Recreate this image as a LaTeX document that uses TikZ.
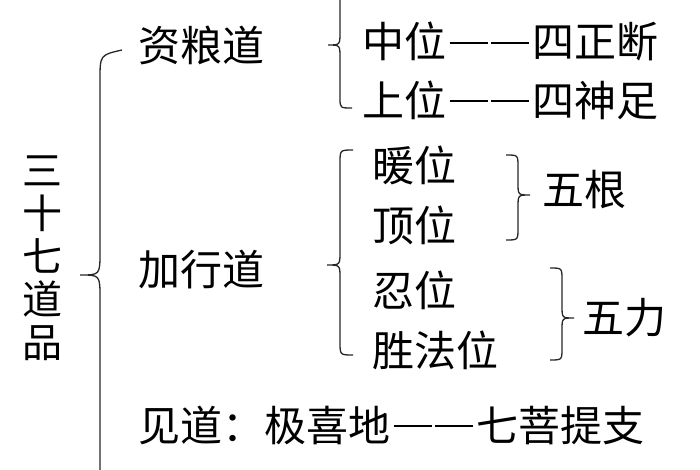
\documentclass[tikz,border=0pt]{standalone}
\usepackage{fontspec}
\setmainfont{Noto Sans CJK SC}
\newcommand\dd{\hspace{0.08em}\rule[0.33em]{0.92em}{0.06em}\hspace{0.06em}\rule[0.33em]{0.92em}{0.06em}\hspace{0.08em}}
\newcommand\mylbr[5]{% x, top, mid, bottom, r
 \draw[brc] ({#1+#5},#2) .. controls (#1,#2) .. (#1,{#2+#5}) -- (#1,{#3-#5}) .. controls (#1,#3) .. ({#1-#5},#3) .. controls (#1,#3) .. (#1,{#3+#5}) -- (#1,{#4-#5}) .. controls (#1,#4) .. ({#1+#5},#4);}
\newcommand\myrbr[5]{%
 \draw[brc] ({#1-#5},#2) .. controls (#1,#2) .. (#1,{#2+#5}) -- (#1,{#3-#5}) .. controls (#1,#3) .. ({#1+#5},#3) .. controls (#1,#3) .. (#1,{#3+#5}) -- (#1,{#4-#5}) .. controls (#1,#4) .. ({#1-#5},#4);}
\begin{document}
\begin{tikzpicture}[x=1pt,y=-1pt,
 txt/.style={anchor=west,inner sep=0pt,font=\fontsize{42}{44}\selectfont},
 brc/.style={line width=1.3pt,black!85}]
\useasboundingbox (0,0) rectangle (700,470);
\node[inner sep=0pt,align=center,font=\fontsize{40}{43}\selectfont] (root) at (42,258) {三\\十\\七\\道\\品};
\node[txt] (zl) at (138,45) {资粮道};
\node[txt] (zw) at (362,42) {中位\dd 四正断};
\node[txt] (sw) at (362,100) {上位\dd 四神足};
\node[txt] (jx) at (138,270) {加行道};
\node[txt] (nw) at (372,165) {暖位};
\node[txt] (dw) at (372,225) {顶位};
\node[txt] (rw) at (372,290) {忍位};
\node[txt] (sf) at (372,350) {胜法位};
\node[txt] (wg) at (542,190) {五根};
\node[txt] (wl) at (582,318) {五力};
\node[txt] (jd) at (138,425) {见道：极喜地\dd 七菩提支};
% big brace
\draw[brc] (122,50) .. controls (100,55) .. (100,80) -- (100,252) .. controls (100,275) .. (80,275) .. controls (100,275) .. (100,298) -- (100,480);
% 资粮道 brace
\draw[brc] (340,-10) -- (340,32) .. controls (340,45) .. (328,45) .. controls (340,45) .. (340,58) -- (340,98) .. controls (340,108) .. (352,108);
\mylbr{340}{150}{265}{355}{13}
\myrbr{518}{155}{195}{240}{12}
\myrbr{562}{268}{318}{360}{12}
\end{tikzpicture}
\end{document}
